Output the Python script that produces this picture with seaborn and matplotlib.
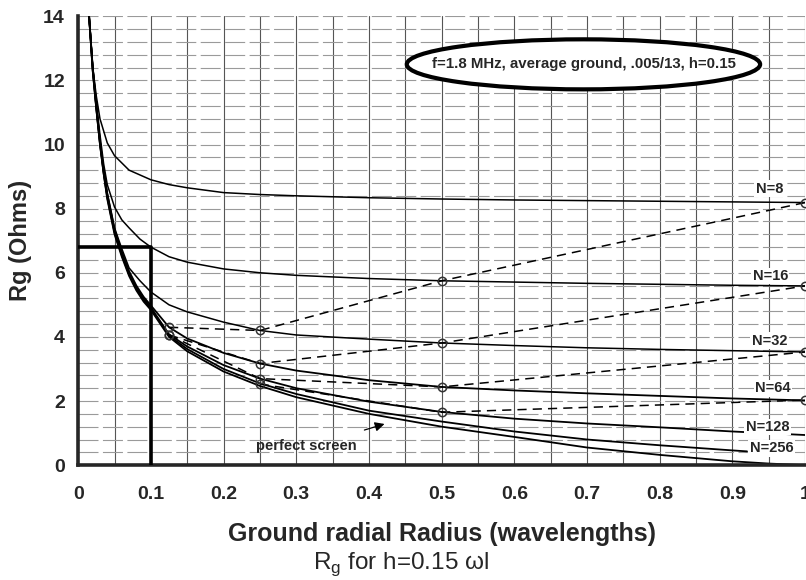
import matplotlib
matplotlib.use("Agg")
import matplotlib.pyplot as plt
import seaborn as sns
import numpy as np
from matplotlib.patches import Ellipse
from matplotlib.ticker import MultipleLocator

# Radius (wavelengths) and Rg (Ohms)
x_n8 = [0.015, 0.02, 0.025, 0.03, 0.04, 0.05, 0.07, 0.1, 0.125, 0.15, 0.2, 0.25,
        0.3, 0.4, 0.5, 0.6, 0.7, 0.8, 0.9, 1.0]
rg_n8 = [14.0, 12.4, 11.5, 10.8, 10.05, 9.65, 9.2, 8.9, 8.75, 8.65, 8.5, 8.44,
         8.4, 8.34, 8.3, 8.27, 8.25, 8.23, 8.21, 8.19]

x_mid = [0.015, 0.02, 0.025, 0.03, 0.035, 0.04, 0.05, 0.06, 0.07, 0.085, 0.1,
         0.125, 0.15, 0.2, 0.25, 0.3, 0.4, 0.5, 0.6, 0.7, 0.8, 0.9, 1.0]
rg_n16 = [14.0, 12.45, 11.3, 10.3, 9.4, 8.75, 8.05, 7.65, 7.4, 7.05, 6.8,
          6.5, 6.33, 6.12, 6.0, 5.92, 5.82, 5.75, 5.71, 5.67, 5.64, 5.61, 5.59]
rg_n32 = [14.0, 12.4, 11.2, 10.1, 9.2, 8.5, 7.4, 6.75, 6.15, 5.75, 5.4,
          5.0, 4.78, 4.46, 4.2, 4.06, 3.93, 3.81, 3.73, 3.66, 3.61, 3.57, 3.53]

x_low = [0.015, 0.02, 0.025, 0.03, 0.035, 0.04, 0.05, 0.06, 0.07, 0.08, 0.09, 0.1,
         0.125, 0.15, 0.2, 0.25, 0.3, 0.4, 0.5, 0.6, 0.7, 0.8, 0.9, 1.0]
rg_n64 = [14.0, 12.4, 11.2, 10.1, 9.2, 8.45, 7.35, 6.65, 6.05, 5.6, 5.25, 4.98,
          4.3, 3.95, 3.5, 3.17, 2.95, 2.65, 2.44, 2.33, 2.24, 2.16, 2.08, 2.02]
rg_n128 = [14.0, 12.35, 11.15, 10.05, 9.15, 8.4, 7.3, 6.6, 6.0, 5.55, 5.2, 4.92,
           4.08, 3.7, 3.12, 2.7, 2.4, 1.98, 1.66, 1.45, 1.3, 1.18, 1.05, 0.94]

x_n256 = [0.015, 0.02, 0.025, 0.03, 0.035, 0.04, 0.05, 0.06, 0.07, 0.08, 0.09, 0.1,
          0.125, 0.15, 0.2, 0.25, 0.3, 0.4, 0.5, 0.6, 0.7, 0.8, 0.9, 0.92]
rg_n256 = [14.0, 12.3, 11.1, 10.0, 9.1, 8.35, 7.25, 6.55, 5.95, 5.5, 5.15, 4.88,
           4.04, 3.62, 3.0, 2.55, 2.22, 1.7, 1.36, 1.05, 0.8, 0.62, 0.46, 0.43]

x_perf = [0.015, 0.02, 0.025, 0.03, 0.035, 0.04, 0.05, 0.06, 0.07, 0.08, 0.09, 0.1,
          0.125, 0.15, 0.2, 0.25, 0.3, 0.4, 0.5, 0.6, 0.7, 0.8, 0.9, 0.95, 1.0]
rg_perf = [14.0, 12.3, 11.1, 10.0, 9.1, 8.3, 7.2, 6.5, 5.9, 5.45, 5.1, 4.84,
           4.0, 3.55, 2.92, 2.47, 2.12, 1.6, 1.2, 0.88, 0.55, 0.32, 0.12, 0.05, 0.0]

# constant total wire length lines (dashed) and their marked points
x_dash = [0.125, 0.25, 0.5, 1.0]
dash_a = [4.3, 4.2, 5.75, 8.19]
dash_b = [4.06, 3.17, 3.81, 5.59]
dash_c = [4.06, 2.7, 2.44, 3.53]
x_dash_d = [0.25, 0.5, 1.0]
dash_d = [2.53, 1.65, 2.03]

curve_labels = ["N=8", "N=16", "N=32", "N=64", "N=128", "N=256"]
label_x = [0.951, 0.952, 0.951, 0.956, 0.948, 0.954]
label_y = [8.62, 5.9, 3.88, 2.4, 1.19, 0.53]

sns.set_style("white")
plt.rcParams['font.family'] = ['Liberation Sans', 'DejaVu Sans']

fig, ax = plt.subplots(figsize=(8.06, 5.8), dpi=100)
fig.subplots_adjust(left=0.097, right=0.999, bottom=0.198, top=0.972)

# grid like the graph paper
ax.xaxis.set_major_locator(MultipleLocator(0.1))
ax.xaxis.set_minor_locator(MultipleLocator(0.05))
ax.yaxis.set_major_locator(MultipleLocator(2))
ax.yaxis.set_minor_locator(MultipleLocator(0.4))
ax.grid(which='both', axis='x', color='#555555', lw=0.8)
ax.grid(which='both', axis='y', color='#9a9a9a', lw=0.8, linestyle=(0, (18, 4)))
ax.set_axisbelow(True)

# solid curves
for xs, ys, w in [(x_n8, rg_n8, 1.1), (x_mid, rg_n16, 1.1), (x_mid, rg_n32, 1.1),
                  (x_low, rg_n64, 1.3), (x_low, rg_n128, 1.3), (x_n256, rg_n256, 1.3),
                  (x_perf, rg_perf, 1.3)]:
    sns.lineplot(x=xs, y=ys, color='black', lw=w, ax=ax, sort=False)

# dashed lines with open circles
for xs, ys in [(x_dash, dash_a), (x_dash, dash_b), (x_dash, dash_c), (x_dash_d, dash_d)]:
    sns.lineplot(x=xs, y=ys, color='black', lw=1.1, ax=ax, sort=False,
                 linestyle=(0, (6, 4)))
    ax.plot(xs, ys, 'o', ms=6, mfc='none', mec='#333333', mew=1.1, clip_on=False, zorder=4)

# the 0.1 wavelength / 6.8 ohm box
ax.plot([0, 0.1, 0.1], [6.8, 6.8, 0], color='black', lw=2.6, zorder=3)

for lab, lx, ly in zip(curve_labels, label_x, label_y):
    ax.text(lx, ly, lab, ha='center', va='center', fontsize=10.5, fontweight='bold',
            bbox=dict(facecolor='white', edgecolor='none', pad=1))

ax.text(0.314, 0.6, "perfect screen", ha='center', va='center', fontsize=10.5,
        fontweight='bold')
ax.annotate("", xy=(0.425, 1.31), xytext=(0.39, 1.07),
            arrowprops=dict(arrowstyle='-|>', color='black', lw=0.9, mutation_scale=14))

ell = Ellipse((0.695, 12.5), 0.486, 1.56, facecolor='white', edgecolor='black',
              lw=3, zorder=5)
ax.add_patch(ell)
ax.text(0.695, 12.5, "f=1.8 MHz, average ground, .005/13, h=0.15", ha='center',
        va='center', fontsize=10.8, fontweight='bold', zorder=6)

ax.set_xlim(0, 1)
ax.set_ylim(0, 14)
ax.set_xticklabels([f"{v:g}" for v in ax.get_xticks()])
sns.despine(ax=ax, top=True, right=True)
ax.spines['left'].set_linewidth(2.6)
ax.spines['bottom'].set_linewidth(2.6)
ax.tick_params(axis='both', which='major', length=6, width=2.2, direction='out',
               labelsize=14, color='black')
ax.tick_params(axis='x', pad=9)
ax.tick_params(which='minor', length=0)
for t in ax.get_xticklabels() + ax.get_yticklabels():
    t.set_fontweight('bold')

ax.set_xlabel("Ground radial Radius (wavelengths)", fontsize=18, fontweight='bold',
              labelpad=14)
ax.set_ylabel("Rg (Ohms)", fontsize=17, fontweight='bold', labelpad=8)
fig.text(0.497, 0.027, r"R$_\mathregular{g}$ for h=0.15 ωl", ha='center', va='center',
         fontsize=17.5)

plt.savefig("out.png", dpi=100)
